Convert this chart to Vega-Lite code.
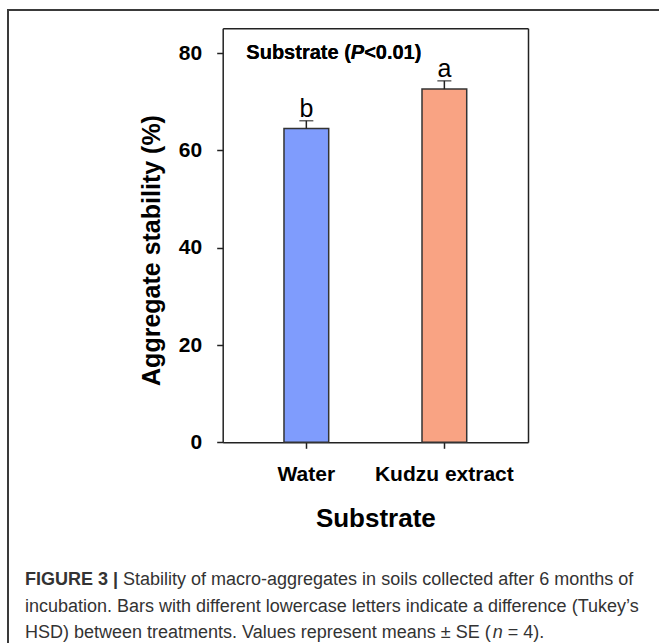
{
  "$schema": "https://vega.github.io/schema/vega-lite/v6.json",
  "width": 660,
  "height": 650,
  "autosize": "none",
  "padding": {"left": 8, "top": 10, "right": 0, "bottom": 0},
  "background": "white",
  "config": {
    "view": {"stroke": "#3a3a3a", "strokeWidth": 2},
    "font": "Liberation Sans",
    "axis": {"grid": false, "domainColor": "#222", "domainWidth": 1.5, "tickColor": "#222", "tickWidth": 1.5}
  },
  "layer": [
    {
      "data": {"values": [
        {"substrate": "Water", "mean": 64.5, "upper": 66.1, "letter": "b"},
        {"substrate": "Kudzu extract", "mean": 72.6, "upper": 74.3, "letter": "a"}
      ]},
      "layer": [
        {
          "mark": {"type": "bar", "stroke": "#333", "strokeWidth": 1.5},
          "encoding": {
            "x": {"field": "substrate", "type": "nominal", "sort": ["Water", "Kudzu extract"],
              "scale": {"domain": ["Water", "Kudzu extract"], "range": [214.7, 520], "paddingInner": 0.676, "paddingOuter": 0.444},
              "axis": {"orient": "bottom", "offset": -217.7, "title": "Substrate", "titleFontSize": 26, "titleFontWeight": "bold", "titleColor": "#000", "titleBaseline": "alphabetic", "titleY": 84.4,
                "labelFontSize": 21, "labelFontWeight": "bold", "labelColor": "#000", "labelBaseline": "alphabetic", "labelPadding": 31.7, "labelAngle": 0, "tickSize": 6}},
            "y": {"field": "mean", "type": "quantitative",
              "scale": {"domain": [0, 85.1], "range": [432.3, 18.3], "nice": false, "zero": true},
              "axis": {"orient": "left", "offset": -214.7, "values": [0, 20, 40, 60, 80], "title": "Aggregate stability (%)", "titleFontSize": 25, "titleFontWeight": "bold", "titleColor": "#000", "titleAngle": 270, "titleBaseline": "alphabetic", "titleX": -63.7, "titleY": 240,
                "labelFontSize": 21, "labelFontWeight": "bold", "labelColor": "#000", "labelPadding": 15, "tickSize": 6}},
            "color": {"field": "substrate", "type": "nominal", "scale": {"domain": ["Water", "Kudzu extract"], "range": ["#7f9cfd", "#f9a383"]}, "legend": null}
          }
        },
        {
          "mark": {"type": "rule", "color": "#222", "strokeWidth": 1.5},
          "encoding": {
            "x": {"field": "substrate", "type": "nominal", "axis": null},
            "y": {"field": "mean", "type": "quantitative", "axis": null},
            "y2": {"field": "upper"}
          }
        },
        {
          "mark": {"type": "tick", "color": "#222", "size": 14, "thickness": 1.5},
          "encoding": {
            "x": {"field": "substrate", "type": "nominal",
              "axis": {"orient": "top", "offset": -18.3, "labels": false, "ticks": false, "title": null}},
            "y": {"field": "upper", "type": "quantitative",
              "axis": {"orient": "right", "offset": -140, "labels": false, "ticks": false, "title": null}}
          }
        },
        {
          "mark": {"type": "text", "fontSize": 25, "color": "#000", "baseline": "alphabetic", "dy": -4},
          "encoding": {
            "x": {"field": "substrate", "type": "nominal", "axis": null},
            "y": {"field": "upper", "type": "quantitative", "axis": null},
            "text": {"field": "letter"}
          }
        },
        {
          "mark": {"type": "text", "fontSize": 20, "fontWeight": "bold", "color": "#000", "align": "left", "baseline": "alphabetic", "dx": -60},
          "encoding": {
            "x": {"datum": "Water", "type": "nominal", "axis": null},
            "y": {"datum": 78.7, "type": "quantitative", "axis": null},
            "text": {"value": "Substrate ("}
          }
        },
        {
          "mark": {"type": "text", "fontSize": 20, "fontWeight": "bold", "fontStyle": "italic", "color": "#000", "align": "left", "baseline": "alphabetic", "dx": 44.5},
          "encoding": {
            "x": {"datum": "Water", "type": "nominal", "axis": null},
            "y": {"datum": 78.7, "type": "quantitative", "axis": null},
            "text": {"value": "P"}
          }
        },
        {
          "mark": {"type": "text", "fontSize": 20, "fontWeight": "bold", "color": "#000", "align": "left", "baseline": "alphabetic", "dx": 57.8},
          "encoding": {
            "x": {"datum": "Water", "type": "nominal", "axis": null},
            "y": {"datum": 78.7, "type": "quantitative", "axis": null},
            "text": {"value": "<0.01)"}
          }
        }
      ],
      "resolve": {"axis": {"x": "independent", "y": "independent"}}
    },
    {
      "data": {"values": [
        {"line": 1, "text": "FIGURE 3 |"},
        {"line": 3, "text": "HSD) between treatments. Values represent means ± SE ("}
      ]},
      "encoding": {
        "x": {"datum": 0, "type": "quantitative", "scale": {"domain": [0, 1], "range": [17, 600]}, "axis": null},
        "y": {"field": "line", "type": "quantitative", "scale": {"domain": [1, 3], "range": [575, 628]}, "axis": null}
      },
      "layer": [
        {
          "mark": {"type": "text", "fontSize": 18, "fontWeight": "bold", "color": "#333", "align": "left", "baseline": "alphabetic"},
          "transform": [{"filter": "datum.line == 1"}],
          "encoding": {"text": {"field": "text"}}
        },
        {
          "mark": {"type": "text", "fontSize": 18, "color": "#333", "align": "left", "baseline": "alphabetic"},
          "transform": [{"filter": "datum.line == 3"}],
          "encoding": {"text": {"field": "text"}}
        },
        {
          "data": {"values": [{"line": 1, "text": "Stability of macro-aggregates in soils collected after 6 months of"}]},
          "mark": {"type": "text", "fontSize": 18, "color": "#333", "align": "left", "baseline": "alphabetic", "dx": 98},
          "encoding": {"text": {"field": "text"}}
        },
        {
          "data": {"values": [{"line": 2, "text": "incubation. Bars with different lowercase letters indicate a difference (Tukey’s"}]},
          "mark": {"type": "text", "fontSize": 18, "color": "#333", "align": "left", "baseline": "alphabetic"},
          "encoding": {"text": {"field": "text"}}
        },
        {
          "data": {"values": [{"line": 3, "text": "n"}]},
          "mark": {"type": "text", "fontSize": 18, "fontStyle": "italic", "color": "#333", "align": "left", "baseline": "alphabetic", "dx": 467.7},
          "encoding": {"text": {"field": "text"}}
        },
        {
          "data": {"values": [{"line": 3, "text": "= 4)."}]},
          "mark": {"type": "text", "fontSize": 18, "color": "#333", "align": "left", "baseline": "alphabetic", "dx": 482.7},
          "encoding": {"text": {"field": "text"}}
        }
      ]
    }
  ],
  "resolve": {"scale": {"x": "independent", "y": "independent"}}
}
